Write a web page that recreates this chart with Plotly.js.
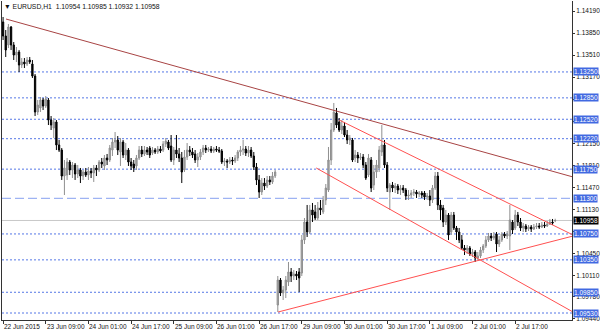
<!DOCTYPE html>
<html><head><meta charset="utf-8">
<script src="https://cdn.plot.ly/plotly-3.0.1.min.js"></script>
<style>html,body{margin:0;padding:0;background:#fff}#chart{width:600px;height:333px}</style>
</head><body><div id="chart"></div>
<script>
// EURUSD H1 candles, 22 Jun 2015 17:00 .. 3 Jul 2015 08:00 (bar index = hour count)
const open = [
1.14021,1.13805,1.13666,1.13944,1.13666,1.13511,1.13558,1.13357,1.13403,1.13373,
1.13434,1.13373,1.13187,1.12632,1.12694,1.12817,1.12724,1.12817,1.12508,1.12385,
1.12478,1.12123,1.12045,1.11644,1.11660,1.11860,1.11737,1.11814,1.11675,1.11737,
1.11644,1.11706,1.11660,1.11721,1.11691,1.11768,1.11737,1.11860,1.11799,1.11922,
1.11891,1.12045,1.12169,1.12200,1.12015,1.12169,1.11968,1.12045,1.11860,1.11829,
1.11799,1.11922,1.12045,1.11984,1.12045,1.12076,1.11999,1.12045,1.12015,1.12061,
1.12045,1.12138,1.12169,1.12107,1.11891,1.12045,1.11984,1.11922,1.11737,1.11937,
1.12045,1.12015,1.11984,1.11891,1.11937,1.12015,1.12076,1.12045,1.12061,1.12030,
1.12061,1.12045,1.12030,1.11860,1.11876,1.11860,1.11891,1.11876,1.11922,1.12015,
1.12045,1.12061,1.11999,1.12045,1.11953,1.11783,1.11583,1.11397,1.11536,1.11490,
1.11583,1.11552,1.11644,1.09653,1.10039,1.09839,1.09885,1.10008,1.10163,1.10101,
1.10132,1.10163,1.10147,1.10657,1.10934,1.10780,1.11120,1.11089,1.10996,1.11150,
1.11089,1.11274,1.11428,1.11891,1.12354,1.12616,1.12478,1.12354,1.12416,1.12277,
1.12200,1.12200,1.11922,1.11968,1.11922,1.11937,1.11814,1.11660,1.11891,1.11505,
1.11706,1.11768,1.12015,1.12123,1.11814,1.11397,1.11505,1.11459,1.11490,1.11428,
1.11459,1.11428,1.11336,1.11351,1.11382,1.11397,1.11366,1.11382,1.11382,1.11320,
1.11336,1.11274,1.11459,1.11644,1.11197,1.11150,1.10934,1.11042,1.10780,1.11042,
1.10842,1.10780,1.10657,1.10533,1.10502,1.10533,1.10441,1.10471,1.10379,1.10410,
1.10502,1.10564,1.10657,1.10718,1.10687,1.10749,1.10595,1.10657,1.10749,1.10718,
1.10718,1.10934,1.10842,1.11042,1.10934,1.10842,1.10873,1.10826,1.10857,1.10826,
1.10857,1.10873,1.10857,1.10888,1.10873,1.10903,1.10934,1.10954];
const high = [
1.14098,1.13897,1.13990,1.13959,1.13712,1.13635,1.13589,1.13465,1.13465,1.13481,
1.13481,1.13434,1.13218,1.12817,1.12863,1.12848,1.12879,1.12848,1.12570,1.12539,
1.12508,1.12200,1.12076,1.11891,1.11922,1.11891,1.11860,1.11845,1.11814,1.11768,
1.11737,1.11768,1.11783,1.11768,1.11814,1.11814,1.11891,1.11922,1.11968,1.11984,
1.12123,1.12231,1.12323,1.12261,1.12231,1.12200,1.12153,1.12076,1.11922,1.11891,
1.11968,1.12107,1.12107,1.12107,1.12092,1.12107,1.12092,1.12076,1.12107,1.12107,
1.12184,1.12231,1.12200,1.12277,1.12092,1.12277,1.12076,1.12015,1.12045,1.12153,
1.12107,1.12076,1.12045,1.11999,1.12061,1.12123,1.12123,1.12092,1.12107,1.12092,
1.12107,1.12092,1.12061,1.11922,1.11907,1.11937,1.11937,1.11968,1.12045,1.12107,
1.12200,1.12107,1.12107,1.12092,1.12015,1.11845,1.11660,1.11613,1.11613,1.11644,
1.11644,1.11706,1.11737,1.10101,1.10070,1.09947,1.10101,1.10317,1.10224,1.10194,
1.10178,1.10224,1.10734,1.10996,1.11197,1.11197,1.11228,1.11197,1.11243,1.11274,
1.11336,1.11521,1.12092,1.12462,1.12771,1.12694,1.12539,1.12508,1.12478,1.12354,
1.12277,1.12231,1.12045,1.12015,1.11999,1.11984,1.11860,1.11984,1.11937,1.11814,
1.11891,1.12107,1.12431,1.12200,1.11860,1.11536,1.11552,1.11536,1.11521,1.11505,
1.11505,1.11459,1.11428,1.11428,1.11444,1.11428,1.11413,1.11413,1.11413,1.11382,
1.11428,1.11505,1.11706,1.11706,1.11274,1.11197,1.11120,1.11073,1.11089,1.11089,
1.10873,1.10842,1.10734,1.10579,1.10579,1.10564,1.10518,1.10502,1.10471,1.10549,
1.10595,1.10718,1.10765,1.10765,1.10780,1.10780,1.10718,1.10780,1.10780,1.10795,
1.11197,1.10965,1.11120,1.11089,1.10996,1.10919,1.10903,1.10888,1.10888,1.10903,
1.10919,1.10919,1.10934,1.10934,1.10950,1.10981,1.10981,1.10985];
const low = [
1.13743,1.13481,1.13619,1.13589,1.13434,1.13403,1.13249,1.13311,1.13311,1.13342,
1.13373,1.13157,1.12570,1.12586,1.12632,1.12663,1.12694,1.12431,1.12354,1.12231,
1.12045,1.12015,1.11583,1.11351,1.11583,1.11660,1.11613,1.11583,1.11613,1.11536,
1.11583,1.11629,1.11583,1.11613,1.11552,1.11644,1.11706,1.11768,1.11737,1.11814,
1.11860,1.11953,1.12076,1.11968,1.11799,1.11922,1.11891,1.11799,1.11737,1.11706,
1.11737,1.11891,1.11937,1.11953,1.11968,1.11922,1.11968,1.11984,1.11984,1.11999,
1.12015,1.12092,1.12045,1.11860,1.11814,1.11922,1.11860,1.11536,1.11706,1.11891,
1.11953,1.11922,1.11845,1.11783,1.11891,1.11968,1.11999,1.12015,1.11999,1.11999,
1.12015,1.11999,1.11829,1.11799,1.11768,1.11829,1.11814,1.11845,1.11876,1.11953,
1.11968,1.11953,1.11937,1.11922,1.11737,1.11505,1.11305,1.11351,1.11428,1.11459,
1.11505,1.11521,1.11613,1.09545,1.09792,1.09731,1.09761,1.09947,1.10008,1.10039,
1.10039,1.09854,1.10101,1.10595,1.10703,1.10749,1.10934,1.10965,1.10965,1.11042,
1.11058,1.11197,1.11397,1.11814,1.12323,1.12385,1.12323,1.12292,1.12246,1.12138,
1.12123,1.11860,1.11860,1.11845,1.11891,1.11768,1.11583,1.11629,1.11397,1.11428,
1.11613,1.11706,1.11953,1.11768,1.11397,1.11120,1.11397,1.11382,1.11366,1.11351,
1.11382,1.11274,1.11274,1.11305,1.11336,1.11305,1.11320,1.11305,1.11274,1.11274,
1.11181,1.11228,1.11428,1.11120,1.10965,1.10857,1.10888,1.10657,1.10734,1.10811,
1.10657,1.10610,1.10502,1.10425,1.10441,1.10410,1.10394,1.10317,1.10348,1.10379,
1.10456,1.10533,1.10626,1.10641,1.10657,1.10471,1.10549,1.10626,1.10687,1.10672,
1.10502,1.10749,1.10811,1.10873,1.10795,1.10780,1.10780,1.10795,1.10780,1.10811,
1.10826,1.10826,1.10842,1.10842,1.10857,1.10888,1.10888,1.10932];
const close = [
1.13805,1.13589,1.13944,1.13666,1.13511,1.13558,1.13357,1.13403,1.13373,1.13434,
1.13403,1.13187,1.12632,1.12740,1.12817,1.12724,1.12832,1.12508,1.12431,1.12478,
1.12123,1.12045,1.11644,1.11768,1.11860,1.11737,1.11814,1.11675,1.11737,1.11644,
1.11706,1.11660,1.11721,1.11691,1.11768,1.11737,1.11860,1.11829,1.11922,1.11891,
1.12076,1.12169,1.12200,1.12045,1.12169,1.11968,1.12045,1.11860,1.11799,1.11768,
1.11922,1.12045,1.11984,1.12045,1.12015,1.11968,1.12045,1.12015,1.12061,1.12030,
1.12138,1.12184,1.12076,1.11891,1.12045,1.11984,1.11922,1.11706,1.11937,1.12045,
1.12015,1.11968,1.11891,1.11937,1.12015,1.12076,1.12045,1.12061,1.12030,1.12061,
1.12045,1.12030,1.11860,1.11876,1.11860,1.11891,1.11876,1.11922,1.12015,1.12045,
1.12061,1.11999,1.12045,1.11953,1.11783,1.11583,1.11397,1.11536,1.11490,1.11583,
1.11552,1.11644,1.11706,1.10039,1.09839,1.09885,1.10039,1.10163,1.10101,1.10132,
1.10101,1.10070,1.10657,1.10934,1.10780,1.11120,1.11042,1.10996,1.11150,1.11120,
1.11274,1.11459,1.11891,1.12354,1.12632,1.12431,1.12354,1.12416,1.12277,1.12200,
1.12231,1.11891,1.11968,1.11922,1.11937,1.11814,1.11613,1.11922,1.11459,1.11706,
1.11814,1.12045,1.12123,1.11814,1.11459,1.11505,1.11459,1.11490,1.11428,1.11459,
1.11428,1.11336,1.11351,1.11382,1.11397,1.11366,1.11382,1.11351,1.11320,1.11336,
1.11274,1.11459,1.11644,1.11197,1.11120,1.10934,1.11042,1.10734,1.11042,1.10842,
1.10780,1.10657,1.10533,1.10502,1.10533,1.10441,1.10471,1.10379,1.10410,1.10502,
1.10564,1.10657,1.10718,1.10687,1.10718,1.10595,1.10657,1.10749,1.10718,1.10749,
1.10965,1.10811,1.11042,1.10934,1.10842,1.10873,1.10826,1.10857,1.10826,1.10857,
1.10873,1.10857,1.10888,1.10873,1.10903,1.10934,1.10919,1.10958];

// time axis labels (bar index of each label)
const tickIdx = [0,16,32,48,64,80,96,112,128,144,160,176,192];
const tickText = ["22 Jun 2015","23 Jun 09:00","24 Jun 01:00","24 Jun 17:00","25 Jun 09:00","26 Jun 01:00","26 Jun 17:00","29 Jun 09:00","30 Jun 01:00","30 Jun 17:00","1 Jul 09:00","2 Jul 01:00","2 Jul 17:00"];
// price scale ticks; labels fully hidden behind level boxes in the reference are left blank
const priceTicks = [1.14190,1.13850,1.13510,1.13170,1.12830,1.12490,1.12150,1.11810,1.11470,1.11130,1.10790,1.10450,1.10110,1.09780,1.09440];
const priceTickText = ["1.14190","1.13850","1.13510","1.13170","","","1.12150","1.11810","1.11470","1.11130","","1.10450","1.10110","1.09780","1.09440"];
// horizontal levels
const levelsDotted = [1.13250,1.12850,1.12520,1.12220,1.11750,1.10750,1.10350,1.09850,1.09530];
const levelsDashed = [1.11300];
const lastPrice = 1.10958;
// trend lines: [bar index start, end], [price start, end]
const trendX = [[1.1,213.7],[126.0,213.7],[117.4,213.7],[103.1,213.7]];
const trendY = [[1.14067,1.11629],[1.12508,1.10734],[1.11768,1.09545],[1.09545,1.10718]];
const trendColor = ['#a84444','#ff5050','#ff5050','#ff5050'];
const titleText = "EURUSD,H1  1.10954 1.10985 1.10932 1.10958";

const FONT = '"Liberation Sans", Arial, sans-serif';
const bars = open.map((_, i) => i);

const traces = [{
  type: 'candlestick', x: bars, open: open, high: high, low: low, close: close,
  increasing: {line: {color: '#8f8f8f', width: 1}, fillcolor: '#a8a8a8'},
  decreasing: {line: {color: '#000000', width: 1}, fillcolor: '#000000'},
  whiskerwidth: 0, hoverinfo: 'skip', showlegend: false
}];
trendX.forEach((xs, k) => traces.push({
  type: 'scatter', mode: 'lines', x: xs, y: trendY[k],
  line: {color: trendColor[k], width: 1}, hoverinfo: 'skip', showlegend: false
}));

const shapes = [];
levelsDotted.forEach(v => shapes.push({type: 'line', xref: 'paper', x0: 0, x1: 1, yref: 'y', y0: v, y1: v,
  line: {color: '#5577e6', width: 1, dash: '2px,2px'}, layer: 'below'}));
levelsDashed.forEach(v => shapes.push({type: 'line', xref: 'paper', x0: 0, x1: 1, yref: 'y', y0: v, y1: v,
  line: {color: '#86a0f0', width: 1, dash: '9px,4px'}, layer: 'below'}));
shapes.push({type: 'line', xref: 'paper', x0: 0, x1: 1, yref: 'y', y0: lastPrice, y1: lastPrice,
  line: {color: '#c8c8c8', width: 1}, layer: 'below'});

const annotations = [];
levelsDotted.concat(levelsDashed).forEach(v => annotations.push({
  xref: 'paper', x: 1, xanchor: 'left', xshift: 1, yref: 'y', y: v, yanchor: 'middle',
  text: v.toFixed(5), showarrow: false, bgcolor: '#4169e1', borderpad: 0,
  font: {family: FONT, size: 6.5, color: '#ffffff'}
}));
annotations.push({
  xref: 'paper', x: 1, xanchor: 'left', xshift: 1, yref: 'y', y: lastPrice, yanchor: 'middle',
  text: lastPrice.toFixed(5), showarrow: false, bgcolor: '#000000', borderpad: 0,
  font: {family: FONT, size: 6.5, color: '#ffffff'}
});
tickIdx.forEach((b, k) => annotations.push({
  xref: 'x', x: b, xanchor: 'left', xshift: 0, yref: 'paper', y: 0, yanchor: 'top', yshift: -2,
  text: tickText[k], showarrow: false, borderpad: 0, font: {family: FONT, size: 6.5, color: '#111'}
}));
annotations.push({
  xref: 'paper', x: 0, xanchor: 'left', xshift: 1, yref: 'paper', y: 1, yanchor: 'top', yshift: -1,
  text: '▼ ' + titleText, showarrow: false, borderpad: 0, font: {family: FONT, size: 6.8, color: '#111'}
});

const layout = {
  width: 600, height: 333, autosize: false,
  margin: {l: 2, r: 28, t: 1, b: 13, pad: 0},
  paper_bgcolor: '#ffffff', plot_bgcolor: '#ffffff',
  showlegend: false, hovermode: false,
  xaxis: {range: [-0.4, 213.3], tickvals: tickIdx, showticklabels: false, ticks: 'outside', ticklen: 3,
    tickcolor: '#333', showgrid: false, zeroline: false, showline: true, linecolor: '#333', linewidth: 1,
    rangeslider: {visible: false}, fixedrange: true},
  yaxis: {range: [1.09422, 1.14345], side: 'right', tickvals: priceTicks, ticktext: priceTickText,
    ticks: 'outside', ticklen: 2, tickcolor: '#333', tickfont: {family: FONT, size: 6.5, color: '#111'},
    ticklabelstandoff: 0,
    showgrid: false, zeroline: false, showline: true, mirror: true, linecolor: '#333', linewidth: 1, fixedrange: true},
  shapes: shapes, annotations: annotations
};
Plotly.newPlot('chart', traces, layout, {staticPlot: true, displayModeBar: false});
</script></body></html>
